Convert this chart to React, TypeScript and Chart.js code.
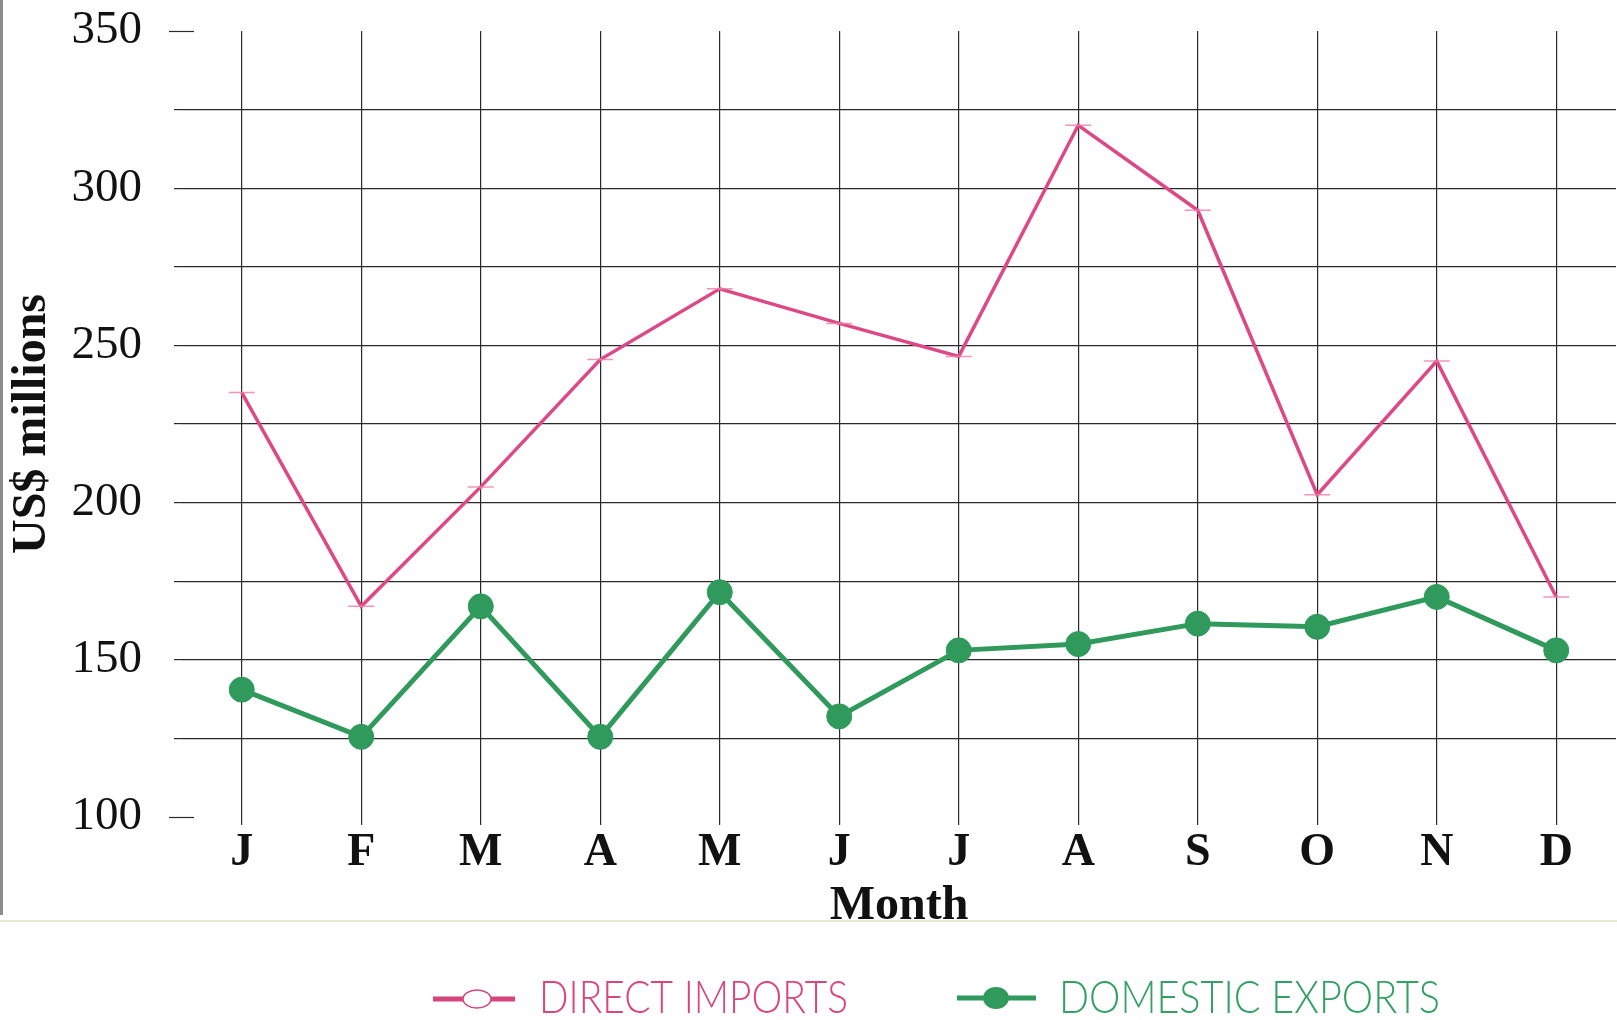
import React, { useEffect, useRef } from 'react';
import { Chart, registerables } from 'chart.js';

Chart.register(...registerables);

// ---- data ----
const months = ['J', 'F', 'M', 'A', 'M', 'J', 'J', 'A', 'S', 'O', 'N', 'D'];
const directImports = [235, 167, 205, 245.5, 268, 257, 246.5, 320, 293, 202.5, 245, 170];
const domesticExports = [140.5, 125.5, 167, 125.5, 171.5, 132, 153, 155, 161.5, 160.5, 170, 153];
const seriesNames = ['DIRECT IMPORTS', 'DOMESTIC EXPORTS'];
const yMin = 100;
const yMax = 350;
const yGridStep = 25;
const yLabelStep = 50;
const xTitle = 'Month';
const yTitle = 'US$ millions';

const SERIF = '"Liberation Serif", "Times New Roman", Times, serif';
const PINK = '#dd4886';
const GREEN = '#2f9a5b';
const GRID = '#2a2a2a';

function drawScaledText(ctx: CanvasRenderingContext2D, text: string, x: number, baseline: number, width: number, color: string) {
  ctx.save();
  ctx.font = '300 46px Lato, "DejaVu Sans", sans-serif';
  const w = ctx.measureText(text).width;
  ctx.translate(x, baseline);
  ctx.scale(width / w, 1);
  ctx.fillStyle = color;
  ctx.textAlign = 'left';
  ctx.textBaseline = 'alphabetic';
  ctx.fillText(text, 0, 0);
  ctx.restore();
}

const decorPlugin = {
  id: 'decor',
  afterDraw(chart: any) {
    const { ctx, chartArea, scales } = chart;
    const ys = scales.y;
    ctx.save();
    // short end ticks at the axis extremes
    ctx.strokeStyle = GRID;
    ctx.lineWidth = 1.2;
    [yMin, yMax].forEach((v) => {
      const py = Math.round(ys.getPixelForValue(v)) + 0.5;
      ctx.beginPath();
      ctx.moveTo(chartArea.left - 13, py);
      ctx.lineTo(chartArea.left + 12, py);
      ctx.stroke();
    });
    // scanned page left edge
    ctx.fillStyle = '#8c8c8c';
    ctx.fillRect(0, 0, 3, 915);
    // separator line
    ctx.strokeStyle = '#ebe6d8';
    ctx.lineWidth = 2;
    ctx.beginPath();
    ctx.moveTo(0, 921);
    ctx.lineTo(chart.width, 921);
    ctx.stroke();

    // legend
    const ds = chart.data.datasets;
    // item 1: line with open ellipse
    ctx.strokeStyle = '#d6457c';
    ctx.lineWidth = 5;
    ctx.beginPath();
    ctx.moveTo(433, 999);
    ctx.lineTo(515, 999);
    ctx.stroke();
    ctx.beginPath();
    ctx.ellipse(477, 999, 14, 9, 0, 0, Math.PI * 2);
    ctx.fillStyle = '#ffffff';
    ctx.fill();
    ctx.lineWidth = 1.5;
    ctx.stroke();
    drawScaledText(ctx, ds[0].label, 539, 1013, 309, '#d9467f');

    // item 2: line with filled dot
    ctx.strokeStyle = GREEN;
    ctx.lineWidth = 5;
    ctx.beginPath();
    ctx.moveTo(957, 998);
    ctx.lineTo(1036, 998);
    ctx.stroke();
    ctx.beginPath();
    ctx.ellipse(996, 998, 13, 11, 0, 0, Math.PI * 2);
    ctx.fillStyle = GREEN;
    ctx.fill();
    drawScaledText(ctx, ds[1].label, 1059, 1013, 381, '#34a063');
    ctx.restore();
  },
};

export default function App() {
  const ref = useRef<HTMLCanvasElement | null>(null);

  useEffect(() => {
    document.body.style.margin = '0';
    document.body.style.overflow = 'hidden';
    document.body.style.background = '#ffffff';
    const canvas = ref.current;
    if (!canvas) return;
    const chart = new Chart(canvas, {
      type: 'line',
      data: {
        labels: months,
        datasets: [
          {
            label: seriesNames[0],
            data: directImports,
            borderColor: PINK,
            borderWidth: 3.5,
            tension: 0,
            fill: false,
            pointStyle: 'line',
            pointRadius: 13,
            pointBorderColor: 'rgba(236,130,170,0.85)',
            pointBackgroundColor: 'rgba(0,0,0,0)',
            pointBorderWidth: 1.5,
          },
          {
            label: seriesNames[1],
            data: domesticExports,
            borderColor: GREEN,
            borderWidth: 5,
            tension: 0,
            fill: false,
            pointStyle: 'circle',
            pointRadius: 12.5,
            pointBackgroundColor: GREEN,
            pointBorderColor: GREEN,
            pointBorderWidth: 1,
          },
        ],
      },
      options: {
        animation: false,
        responsive: false,
        devicePixelRatio: 1,
        events: [],
        layout: { autoPadding: false, padding: { left: 0, right: 1, top: 31, bottom: 89 } },
        plugins: {
          legend: { display: false },
          tooltip: { enabled: false },
          title: { display: false },
        },
        scales: {
          x: {
            type: 'category',
            offset: true,
            grid: {
              offset: false,
              color: GRID,
              lineWidth: 1.2,
              drawTicks: true,
              tickLength: 8,
            },
            border: { display: false },
            ticks: {
              autoSkip: false,
              maxRotation: 0,
              minRotation: 0,
              padding: 5,
              color: '#111111',
              font: { family: SERIF, size: 46, weight: 'bold', lineHeight: 1 },
            },
            title: {
              display: true,
              text: xTitle,
              color: '#111111',
              font: { family: SERIF, size: 48, weight: 'bold', lineHeight: 1 },
              padding: { top: 0, bottom: 0 },
            },
            afterFit: (s: any) => {
              s.height = 114;
              s.paddingLeft = 0;
              s.paddingRight = 0;
            },
          },
          y: {
            type: 'linear',
            min: yMin,
            max: yMax,
            ticks: {
              stepSize: yGridStep,
              padding: 32,
              color: '#111111',
              font: { family: SERIF, size: 47, lineHeight: 1 },
              callback: (v: any) => (Number(v) % yLabelStep === 0 ? String(v) : ''),
            },
            grid: {
              color: (c: any) =>
                c.tick && (c.tick.value === yMin || c.tick.value === yMax) ? 'rgba(0,0,0,0)' : GRID,
              lineWidth: 1.2,
              drawTicks: true,
              tickLength: 8,
            },
            border: { display: false },
            title: {
              display: true,
              text: yTitle,
              color: '#111111',
              font: { family: SERIF, size: 48, weight: 'bold', lineHeight: 1 },
              padding: { top: 9, bottom: 0 },
            },
            afterFit: (s: any) => {
              s.width = 182;
              s.paddingTop = 0;
              s.paddingBottom = 0;
            },
          },
        },
      },
      plugins: [decorPlugin],
    });
    return () => chart.destroy();
  }, []);

  return (
    <div style={{ width: 1617, height: 1020, position: 'relative', background: '#ffffff' }}>
      <canvas ref={ref} width={1617} height={1020} style={{ display: 'block', width: 1617, height: 1020 }} />
    </div>
  );
}
